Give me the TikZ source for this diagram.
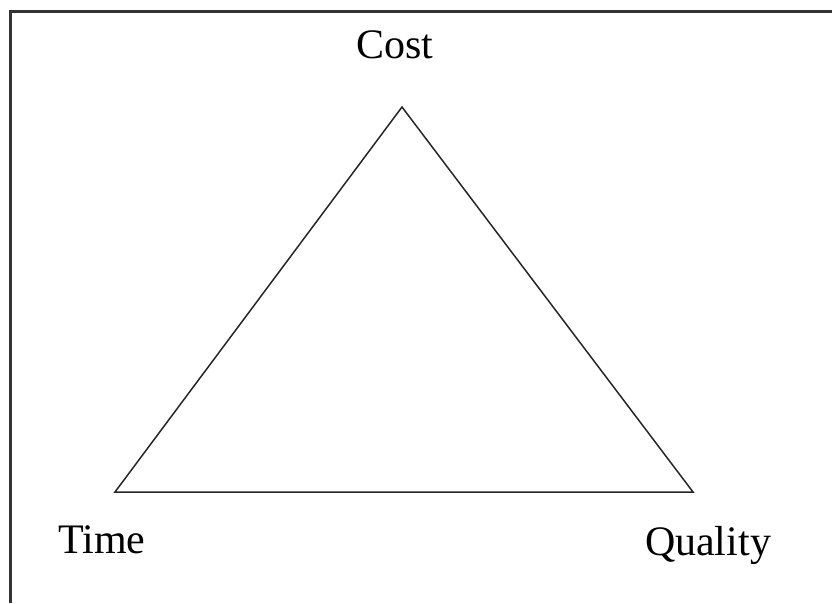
\documentclass[tikz,border=0pt]{standalone}
\usepackage{fontspec}
\setmainfont{Liberation Serif}

\begin{document}
\begin{tikzpicture}[x=1pt,y=-1pt,every node/.style={font=\fontsize{42}{50}\selectfont,inner sep=0pt}]
\useasboundingbox (0,0) rectangle (832,603);
% frame (only left and top edges survive in the scan)
\draw[line width=3pt,black!80] (10,603)--(10,11)--(832,11);
% corners of the triangle
\coordinate (cost) at (402,107);
\coordinate (time) at (115,492);
\coordinate (quality) at (693,492);
\draw[line width=1.5pt,black!85,line join=miter] (time)--(cost)--(quality)--cycle;
% labels
\node[anchor=base] (costlbl) at (395,58) {Cost};
\node[anchor=base] (timelbl) at (102,553) {Time};
\node[anchor=base] (qualitylbl) at (708,555) {Quality};
\end{tikzpicture}
\end{document}
